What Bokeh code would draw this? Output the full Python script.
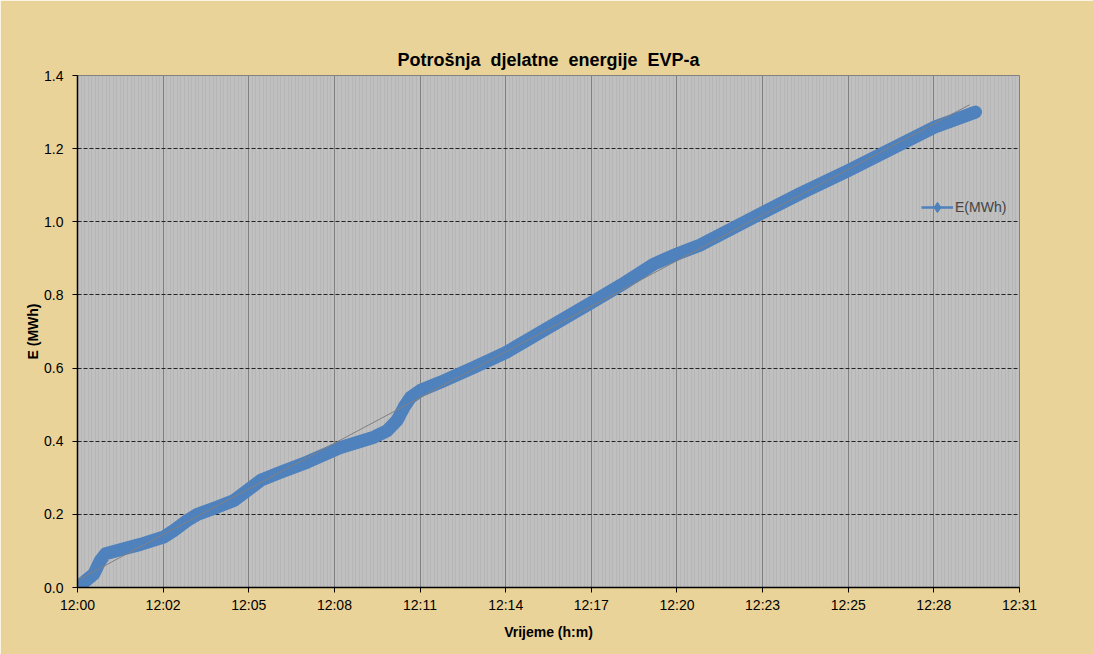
import numpy as np
from bokeh.plotting import figure
from bokeh.models import (Range1d, FixedTicker, PrintfTickFormatter, Legend, LegendItem,
                          ColumnDataSource)
from bokeh.embed import file_html
from bokeh.resources import INLINE

# ---- data (minutes after 12:00, energy in MWh) ----
t_min = [0.0, 0.21, 0.55, 0.77, 0.94, 1.56, 2.12, 2.9, 3.24, 3.69, 4.03, 4.7, 5.26,
         5.71, 6.16, 6.83, 7.73, 8.74, 8.85, 9.97, 10.42, 10.75, 10.98, 11.2, 11.54,
         12.2, 13.33, 14.4, 17.28, 18.3, 19.4, 20.16, 20.96, 23.04, 24.3, 25.92, 28.8, 30.2]
energy = [0.0, 0.014, 0.037, 0.074, 0.092, 0.106, 0.118, 0.138, 0.156, 0.183, 0.2,
          0.22, 0.238, 0.265, 0.293, 0.315, 0.343, 0.379, 0.383, 0.411, 0.429, 0.457,
          0.493, 0.52, 0.539, 0.561, 0.602, 0.642, 0.779, 0.828, 0.885, 0.912, 0.937,
          1.025, 1.077, 1.14, 1.258, 1.30]

trend_t = [0.0, 30.0]
trend_e = [0.02, 1.32]

tick_pos = [round(i * 2.88, 2) for i in range(12)]
tick_labels = ["12:00", "12:02", "12:05", "12:08", "12:11", "12:14", "12:17",
               "12:20", "12:23", "12:25", "12:28", "12:31"]
minor_pos = [round(v, 3) for v in np.arange(0, 31.68, 0.12)]

FONT = "Liberation Sans"
BLUE = "#4F81BD"
NB = "\u00a0 "

p = figure(width=1093, height=654, output_backend="svg", toolbar_location=None,
           x_range=Range1d(0, 31.68), y_range=Range1d(0, 1.4),
           min_border_left=77, min_border_right=74, min_border_top=75, min_border_bottom=67)

p.background_fill_color = "#C0C0C0"
p.border_fill_color = "#EAD398"
p.outline_line_color = "#808080"

p.title.text = NB.join(["Potrošnja", "djelatne", "energije", "EVP-a"])
p.title.align = "center"
p.title.text_font = FONT
p.title.text_font_size = "18px"
p.title.text_font_style = "bold"
p.title.text_color = "#000000"
p.title.standoff = 12

# axes
xa = p.xaxis[0]
xa.ticker = FixedTicker(ticks=tick_pos, minor_ticks=minor_pos)
xa.major_label_overrides = {k: v for k, v in zip(tick_pos, tick_labels)}
xa.axis_label = "Vrijeme (h:m)"
ya = p.yaxis[0]
ya.ticker = FixedTicker(ticks=[0, 0.2, 0.4, 0.6, 0.8, 1.0, 1.2, 1.4])
ya.formatter = PrintfTickFormatter(format="%.1f")
ya.axis_label = "E (MWh)"
for ax in (xa, ya):
    ax.axis_line_color = "#000000"
    ax.axis_line_width = 1.5
    ax.major_tick_line_color = "#000000"
    ax.major_tick_in = 0
    ax.major_tick_out = 5
    ax.minor_tick_line_color = None
    ax.major_label_text_font = FONT
    ax.major_label_text_font_size = "14px"
    ax.major_label_text_color = "#000000"
    ax.axis_label_text_font = FONT
    ax.axis_label_text_font_size = "14px"
    ax.axis_label_text_font_style = "bold"
    ax.axis_label_text_color = "#000000"
xa.major_label_standoff = 4
xa.axis_label_standoff = 8
ya.major_label_standoff = 9
ya.axis_label_standoff = 0

# grids
xg = p.xgrid[0]
xg.grid_line_color = "#808080"
xg.grid_line_width = 1
xg.minor_grid_line_color = "#A8A8A8"
xg.minor_grid_line_alpha = 0.4
xg.minor_grid_line_width = 1
yg = p.ygrid[0]
yg.grid_line_color = "#222222"
yg.grid_line_dash = "4 2"
yg.grid_line_width = 1

src = ColumnDataSource(dict(t=t_min, e=energy))
p.line("t", "e", source=src, line_color=BLUE, line_width=13, line_join="round", line_cap="round")
p.line(trend_t, trend_e, line_color="#808080", line_width=1)

# legend proxy (no visible data)
leg_src = ColumnDataSource(dict(t=[np.nan], e=[np.nan]))
leg_line = p.line("t", "e", source=leg_src, line_color=BLUE, line_width=2.5)
leg_mark = p.scatter("t", "e", source=leg_src, marker="diamond", size=13,
                     fill_color=BLUE, line_color=BLUE)
legend = Legend(items=[LegendItem(label="E(MWh)", renderers=[leg_line, leg_mark])],
                location=(844, 367), padding=0, margin=0, spacing=0,
                glyph_width=32, glyph_height=26, label_standoff=2,
                label_text_font=FONT, label_text_font_size="14px",
                border_line_color=None, background_fill_alpha=0)
p.add_layout(legend, "center")

open("out.html", "w").write(file_html(p, INLINE))
